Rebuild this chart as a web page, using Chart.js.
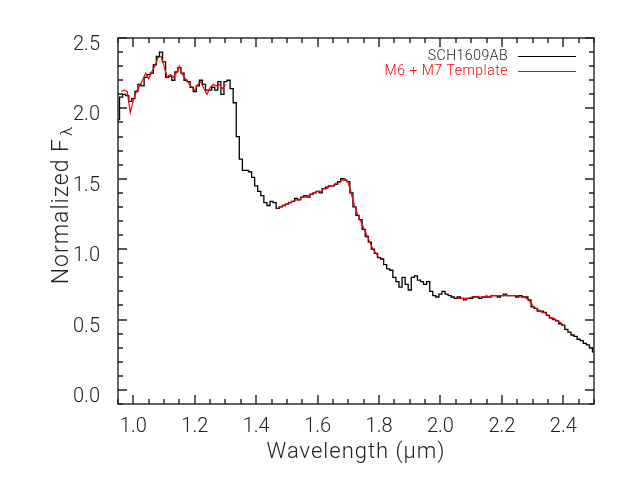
<!DOCTYPE html>
<html>
<head>
<meta charset="utf-8">
<script src="https://cdn.jsdelivr.net/npm/chart.js@4.4.0/dist/chart.umd.min.js"></script>
<style>
html, body { margin: 0; padding: 0; background: #fff; }
</style>
</head>
<body>
<canvas id="chartSpec" width="630" height="480"></canvas>
<script>
// Wavelength grid (micron)
const wavelength = [
    0.95, 0.96, 0.97, 0.98, 0.99, 1.00, 1.01, 1.02, 1.03, 1.04,
    1.05, 1.06, 1.07, 1.08, 1.09, 1.10, 1.11, 1.12, 1.13, 1.14,
    1.15, 1.16, 1.17, 1.18, 1.19, 1.20, 1.21, 1.22, 1.23, 1.24,
    1.25, 1.26, 1.27, 1.28, 1.29, 1.30, 1.31, 1.32, 1.33, 1.34,
    1.35, 1.36, 1.37, 1.38, 1.39, 1.40, 1.41, 1.42, 1.43, 1.44,
    1.45, 1.46, 1.47, 1.48, 1.49, 1.50, 1.51, 1.52, 1.53, 1.54,
    1.55, 1.56, 1.57, 1.58, 1.59, 1.60, 1.61, 1.62, 1.63, 1.64,
    1.65, 1.66, 1.67, 1.68, 1.69, 1.70, 1.71, 1.72, 1.73, 1.74,
    1.75, 1.76, 1.77, 1.78, 1.79, 1.80, 1.81, 1.82, 1.83, 1.84,
    1.85, 1.86, 1.87, 1.88, 1.89, 1.90, 1.91, 1.92, 1.93, 1.94,
    1.95, 1.96, 1.97, 1.98, 1.99, 2.00, 2.01, 2.02, 2.03, 2.04,
    2.05, 2.06, 2.07, 2.08, 2.09, 2.10, 2.11, 2.12, 2.13, 2.14,
    2.15, 2.16, 2.17, 2.18, 2.19, 2.20, 2.21, 2.22, 2.23, 2.24,
    2.25, 2.26, 2.27, 2.28, 2.29, 2.30, 2.31, 2.32, 2.33, 2.34,
    2.35, 2.36, 2.37, 2.38, 2.39, 2.40, 2.41, 2.42, 2.43, 2.44,
    2.45, 2.46, 2.47, 2.48, 2.49, 2.50
];

// SCH1609AB spectrum
const sch1609Flux = [
    1.92, 2.08, 2.10, 2.09, 2.05, 2.07, 2.12, 2.17, 2.16, 2.22,
    2.24, 2.25, 2.31, 2.37, 2.40, 2.33, 2.22, 2.23, 2.20, 2.26,
    2.29, 2.25, 2.20, 2.19, 2.15, 2.12, 2.16, 2.20, 2.17, 2.13,
    2.13, 2.15, 2.13, 2.19, 2.10, 2.19, 2.20, 2.14, 2.04, 1.80,
    1.64, 1.56, 1.56, 1.55, 1.51, 1.45, 1.41, 1.38, 1.33, 1.31,
    1.34, 1.33, 1.29, 1.30, 1.31, 1.32, 1.33, 1.34, 1.36, 1.35,
    1.37, 1.38, 1.37, 1.39, 1.40, 1.41, 1.40, 1.43, 1.44, 1.45,
    1.45, 1.46, 1.48, 1.50, 1.49, 1.48, 1.40, 1.30, 1.24, 1.21,
    1.14, 1.09, 1.05, 1.00, 0.97, 0.94, 0.93, 0.89, 0.86, 0.85,
    0.80, 0.77, 0.73, 0.80, 0.75, 0.71, 0.80, 0.81, 0.78, 0.77,
    0.75, 0.77, 0.70, 0.67, 0.66, 0.68, 0.70, 0.68, 0.67, 0.66,
    0.65, 0.66, 0.65, 0.64, 0.65, 0.65, 0.66, 0.66, 0.65, 0.66,
    0.66, 0.66, 0.67, 0.67, 0.66, 0.67, 0.68, 0.67, 0.67, 0.67,
    0.66, 0.67, 0.66, 0.66, 0.64, 0.59, 0.58, 0.56, 0.56, 0.55,
    0.53, 0.51, 0.50, 0.49, 0.47, 0.46, 0.43, 0.41, 0.39, 0.38,
    0.36, 0.35, 0.33, 0.32, 0.30, 0.27
];

// M6 + M7 template (only where fitted)
const templateFlux = [
    null, 2.12, 2.13, 2.12, 1.97, 2.06, 2.12, 2.16, 2.20, 2.25,
    2.21, 2.26, 2.30, 2.36, 2.37, 2.30, 2.22, 2.24, 2.22, 2.25,
    2.30, 2.24, 2.21, 2.18, 2.15, 2.13, 2.17, 2.19, 2.14, 2.10,
    2.15, 2.17, 2.16, 2.17, 2.14, 2.17, null, null, null, null,
    null, null, null, null, null, null, null, null, null, null,
    null, null, 1.29, 1.30, 1.31, 1.32, 1.33, 1.34, 1.35, 1.35,
    1.37, 1.37, 1.38, 1.39, 1.40, 1.41, 1.41, 1.43, 1.43, 1.45,
    1.45, 1.47, 1.47, 1.49, 1.50, 1.47, 1.39, 1.31, 1.25, 1.20,
    1.15, 1.10, 1.05, 1.00, 0.97, 0.94, null, null, null, null,
    null, null, null, null, null, null, null, null, null, null,
    null, null, null, null, null, null, null, null, null, null,
    0.66, 0.65, 0.65, 0.65, 0.65, 0.66, 0.66, 0.66, 0.66, 0.66,
    0.67, 0.66, 0.67, 0.67, 0.67, 0.67, 0.67, 0.67, 0.67, 0.67,
    0.67, 0.66, 0.66, 0.65, 0.63, 0.60, 0.58, 0.57, 0.55, 0.55,
    0.53, 0.51, 0.51, 0.49, 0.48, 0.46, null, null, null, null,
    null, null, null, null, null, null
];

const seriesNames = ['SCH1609AB', 'M6 + M7 Template'];
const xTickValues = [1.0, 1.2, 1.4, 1.6, 1.8, 2.0, 2.2, 2.4];
const yTickValues = [0.0, 0.5, 1.0, 1.5, 2.0, 2.5];
const xTitle = 'Wavelength (μm)';
const yTitle = 'Normalized F';
const yTitleSub = 'λ';

const fontFamily = 'Roboto, "Open Sans", "Liberation Sans", sans-serif';
const fontWeight = '300';
const textColor = '#222';

// IDL-style box with inward ticks, titles and legend
const framePlugin = {
    id: 'frame',
    afterDraw(chart) {
        const ctx = chart.ctx;
        const a = chart.chartArea;
        const xs = chart.scales.x;
        const ys = chart.scales.y;
        const L = Math.round(a.left), R = Math.round(a.right);
        const T = Math.round(a.top), B = Math.round(a.bottom);
        ctx.save();
        ctx.strokeStyle = '#222';
        ctx.lineWidth = 1.4;
        ctx.strokeRect(L, T, R - L, B - T);

        ctx.beginPath();
        for (let k = 19; k <= 50; k++) {
            const px = Math.round(xs.getPixelForValue(k * 0.05));
            const len = (k % 4 === 0) ? 9 : 5;
            ctx.moveTo(px, B); ctx.lineTo(px, B - len);
            ctx.moveTo(px, T); ctx.lineTo(px, T + len);
        }
        for (let k = -1; k <= 25; k++) {
            const py = Math.round(ys.getPixelForValue(k * 0.1));
            const len = (k % 5 === 0) ? 9 : 5;
            ctx.moveTo(L, py); ctx.lineTo(L + len, py);
            ctx.moveTo(R, py); ctx.lineTo(R - len, py);
        }
        ctx.stroke();

        // axis titles
        ctx.fillStyle = textColor;
        ctx.textBaseline = 'middle';
        ctx.textAlign = 'center';
        ctx.letterSpacing = '1px';
        ctx.font = fontWeight + ' 22px ' + fontFamily;
        ctx.fillText(xTitle, (a.left + a.right) / 2, 452);

        ctx.save();
        ctx.translate(62, 205);
        ctx.rotate(-Math.PI / 2);
        ctx.font = fontWeight + ' 23px ' + fontFamily;
        const w1 = ctx.measureText(yTitle).width;
        ctx.font = fontWeight + ' 17px ' + fontFamily;
        const w2 = ctx.measureText(yTitleSub).width;
        const start = -(w1 + w2 + 2) / 2;
        ctx.textAlign = 'left';
        ctx.font = fontWeight + ' 23px ' + fontFamily;
        ctx.fillText(yTitle, start, 0);
        ctx.font = fontWeight + ' 17px ' + fontFamily;
        ctx.fillText(yTitleSub, start + w1 + 2, 6);
        ctx.restore();

        // legend
        const colors = ['#000000', '#ff0000'];
        const rows = [56, 71];
        ctx.letterSpacing = '0.5px';
        ctx.font = fontWeight + ' 14px ' + fontFamily;
        ctx.textAlign = 'right';
        ctx.lineWidth = 1.2;
        for (let i = 0; i < seriesNames.length; i++) {
            ctx.fillStyle = i === 0 ? textColor : colors[i];
            ctx.fillText(seriesNames[i], 508, rows[i]);
            ctx.strokeStyle = colors[i];
            ctx.beginPath();
            ctx.moveTo(518, rows[i] + 0.5);
            ctx.lineTo(576, rows[i] + 0.5);
            ctx.stroke();
        }
        ctx.restore();
    }
};

const ctxSpec = document.getElementById('chartSpec').getContext('2d');
const chartSpec = new Chart(ctxSpec, {
    type: 'line',
    data: {
        datasets: [{
            label: seriesNames[0],
            data: wavelength.map((w, i) => ({ x: w, y: sch1609Flux[i] })),
            borderColor: '#000000',
            borderWidth: 1.3,
            stepped: 'middle',
            pointRadius: 0,
            order: 1
        }, {
            label: seriesNames[1],
            data: wavelength.map((w, i) => ({ x: w, y: templateFlux[i] })),
            borderColor: '#ff0000',
            borderWidth: 1.2,
            pointRadius: 0,
            spanGaps: false,
            order: 0
        }]
    },
    options: {
        responsive: false,
        animation: false,
        layout: {
            padding: { top: 38, right: 36, left: 0, bottom: 0 }
        },
        plugins: {
            legend: { display: false },
            tooltip: { enabled: false }
        },
        scales: {
            x: {
                type: 'linear',
                min: 0.95,
                max: 2.5,
                afterBuildTicks: function(scale) {
                    scale.ticks = xTickValues.map(v => ({ value: v }));
                },
                afterFit: function(scale) {
                    scale.height = 76;
                },
                grid: { display: false },
                border: { display: false },
                ticks: {
                    padding: 3,
                    color: textColor,
                    font: { family: fontFamily, size: 20, weight: fontWeight },
                    maxRotation: 0,
                    autoSkip: false,
                    callback: function(value) {
                        return Number(value).toFixed(1);
                    }
                }
            },
            y: {
                type: 'linear',
                min: -0.1,
                max: 2.5,
                afterBuildTicks: function(scale) {
                    scale.ticks = yTickValues.map(v => ({ value: v }));
                },
                afterFit: function(scale) {
                    scale.width = 118;
                },
                grid: { display: false },
                border: { display: false },
                ticks: {
                    padding: 10,
                    labelOffset: 7,
                    color: textColor,
                    font: { family: fontFamily, size: 20, weight: fontWeight },
                    autoSkip: false,
                    callback: function(value) {
                        return Number(value).toFixed(1);
                    }
                }
            }
        }
    },
    plugins: [framePlugin]
});
</script>
</body>
</html>
